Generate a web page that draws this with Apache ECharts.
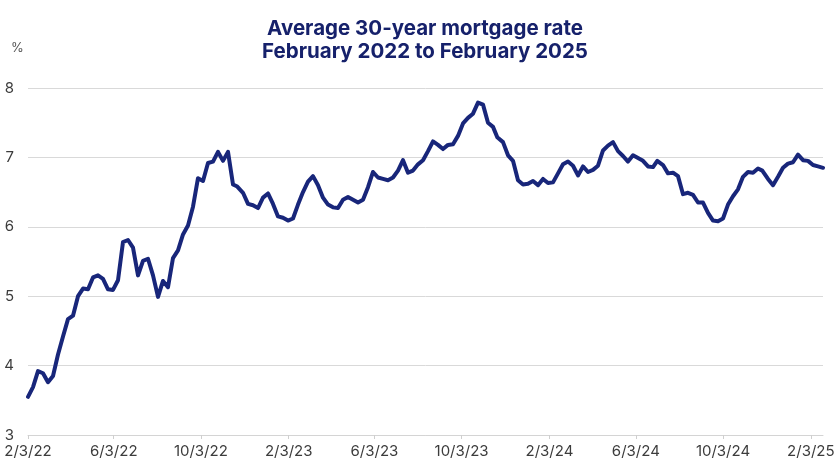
<!DOCTYPE html>
<html>
<head>
<meta charset="utf-8">
<script src="https://cdn.jsdelivr.net/npm/echarts@6/dist/echarts.min.js"></script>
<style>
html,body{margin:0;padding:0;background:#fff;}
#c{width:840px;height:472px;}
</style>
</head>
<body>
<div id="c"></div>
<script>
const dates2022 = ['2022-02-03','2022-02-10','2022-02-17','2022-02-24','2022-03-03','2022-03-10','2022-03-17','2022-03-24','2022-03-31','2022-04-07','2022-04-14','2022-04-21','2022-04-28','2022-05-05','2022-05-12','2022-05-19','2022-05-26','2022-06-02','2022-06-09','2022-06-16','2022-06-23','2022-06-30','2022-07-07','2022-07-14','2022-07-21','2022-07-28','2022-08-04','2022-08-11','2022-08-18','2022-08-25','2022-09-01','2022-09-08','2022-09-15','2022-09-22','2022-09-29','2022-10-06','2022-10-13','2022-10-20','2022-10-27','2022-11-03','2022-11-10','2022-11-17','2022-11-23','2022-12-01','2022-12-08','2022-12-15','2022-12-22','2022-12-29'];
const rates2022 = [3.55,3.69,3.92,3.89,3.76,3.85,4.16,4.42,4.67,4.72,5.00,5.11,5.10,5.27,5.30,5.25,5.10,5.09,5.23,5.78,5.81,5.70,5.30,5.51,5.54,5.30,4.99,5.22,5.13,5.55,5.66,5.89,6.02,6.29,6.70,6.66,6.92,6.94,7.08,6.95,7.08,6.61,6.58,6.49,6.33,6.31,6.27,6.42];
const dates2023 = ['2023-01-05','2023-01-12','2023-01-19','2023-01-26','2023-02-02','2023-02-09','2023-02-16','2023-02-23','2023-03-02','2023-03-09','2023-03-16','2023-03-23','2023-03-30','2023-04-06','2023-04-13','2023-04-20','2023-04-27','2023-05-04','2023-05-11','2023-05-18','2023-05-25','2023-06-01','2023-06-08','2023-06-15','2023-06-22','2023-06-29','2023-07-06','2023-07-13','2023-07-20','2023-07-27','2023-08-03','2023-08-10','2023-08-17','2023-08-24','2023-08-31','2023-09-07','2023-09-14','2023-09-21','2023-09-28','2023-10-05','2023-10-12','2023-10-19','2023-10-26','2023-11-02','2023-11-09','2023-11-16','2023-11-22','2023-11-30','2023-12-07','2023-12-14','2023-12-21','2023-12-28'];
const rates2023 = [6.48,6.33,6.15,6.13,6.09,6.12,6.32,6.50,6.65,6.73,6.60,6.42,6.32,6.28,6.27,6.39,6.43,6.39,6.35,6.39,6.57,6.79,6.71,6.69,6.67,6.71,6.81,6.96,6.78,6.81,6.90,6.96,7.09,7.23,7.18,7.12,7.18,7.19,7.31,7.49,7.57,7.63,7.79,7.76,7.50,7.44,7.29,7.22,7.03,6.95,6.67,6.61];
const dates2024 = ['2024-01-04','2024-01-11','2024-01-18','2024-01-25','2024-02-01','2024-02-08','2024-02-15','2024-02-22','2024-02-29','2024-03-07','2024-03-14','2024-03-21','2024-03-28','2024-04-04','2024-04-11','2024-04-18','2024-04-25','2024-05-02','2024-05-09','2024-05-16','2024-05-23','2024-05-30','2024-06-06','2024-06-13','2024-06-20','2024-06-27','2024-07-03','2024-07-11','2024-07-18','2024-07-25','2024-08-01','2024-08-08','2024-08-15','2024-08-22','2024-08-29','2024-09-05','2024-09-12','2024-09-19','2024-09-26','2024-10-03','2024-10-10','2024-10-17','2024-10-24','2024-10-31','2024-11-07','2024-11-14','2024-11-21','2024-11-27','2024-12-05','2024-12-12','2024-12-19','2024-12-26'];
const rates2024 = [6.62,6.66,6.60,6.69,6.63,6.64,6.77,6.90,6.94,6.88,6.74,6.87,6.79,6.82,6.88,7.10,7.17,7.22,7.09,7.02,6.94,7.03,6.99,6.95,6.87,6.86,6.95,6.89,6.77,6.78,6.73,6.47,6.49,6.46,6.35,6.35,6.20,6.09,6.08,6.12,6.32,6.44,6.54,6.72,6.79,6.78,6.84,6.81,6.69,6.60,6.72,6.85];
const dates2025 = ['2025-01-02','2025-01-09','2025-01-16','2025-01-23','2025-01-30','2025-02-06','2025-02-13','2025-02-20'];
const rates2025 = [6.91,6.93,7.04,6.96,6.95,6.89,6.87,6.85];
const tickDates = ['2022-02-03','2022-06-03','2022-10-03','2023-02-03','2023-06-03','2023-10-03','2024-02-03','2024-06-03','2024-10-03','2025-02-03'];
const yTicks = [3,4,5,6,7,8];

function ts(s){const p=s.split('-').map(Number);return Date.UTC(p[0],p[1]-1,p[2]);}
const allDates = dates2022.concat(dates2023, dates2024, dates2025);
const allRates = rates2022.concat(rates2023, rates2024, rates2025);
const seriesData = allDates.map((d,i)=>[ts(d), allRates[i]]);
const tickTs = tickDates.map(ts);

const NAVY = '#18267a';
const chart = echarts.init(document.getElementById('c'));
chart.setOption({
  animation:false,
  backgroundColor:'#fff',
  title:[{
    text:'Average 30-year mortgage rate\nFebruary 2022 to February 2025',
    left:420, top:12,
    textAlign:'center',
    textStyle:{fontFamily:'Inter', fontWeight:'bold', fontSize:20.5, lineHeight:23.5, color:'#16216b'}
  },{
    text:'%', left:6, top:37,
    textStyle:{fontFamily:'Inter', fontWeight:'normal', fontSize:13, color:'#555'}
  }],
  grid:{left:28, right:17, top:88, bottom:37, containLabel:false},
  xAxis:{
    type:'value',
    min:ts(dates2022[0]),
    max:ts(dates2025[dates2025.length-1]),
    axisLine:{show:true, lineStyle:{color:'#d4d4d4', width:1}},
    axisTick:{show:true, customValues:tickTs, length:4, lineStyle:{color:'#cfcfcf'}},
    axisLabel:{
      customValues:tickTs,
      margin:9,
      fontFamily:'Inter', fontSize:15, color:'#3c3c3c',
      hideOverlap:false,
      formatter:function(v){const d=new Date(v);return (d.getUTCMonth()+1)+'/'+d.getUTCDate()+'/'+String(d.getUTCFullYear()).slice(2);}
    },
    splitLine:{show:false}
  },
  yAxis:{
    type:'value', min:yTicks[0], max:yTicks[yTicks.length-1], interval:1,
    axisLine:{show:false}, axisTick:{show:false},
    axisLabel:{margin:14, fontFamily:'Inter', fontSize:15, color:'#3c3c3c'},
    splitLine:{show:true, lineStyle:{color:'#d9d9d9', width:1}}
  },
  series:[{
    type:'line', data:seriesData, showSymbol:false, symbol:'none',
    lineStyle:{color:NAVY, width:4, join:'round', cap:'round'},
    clip:false
  }]
});
</script>
</body>
</html>
